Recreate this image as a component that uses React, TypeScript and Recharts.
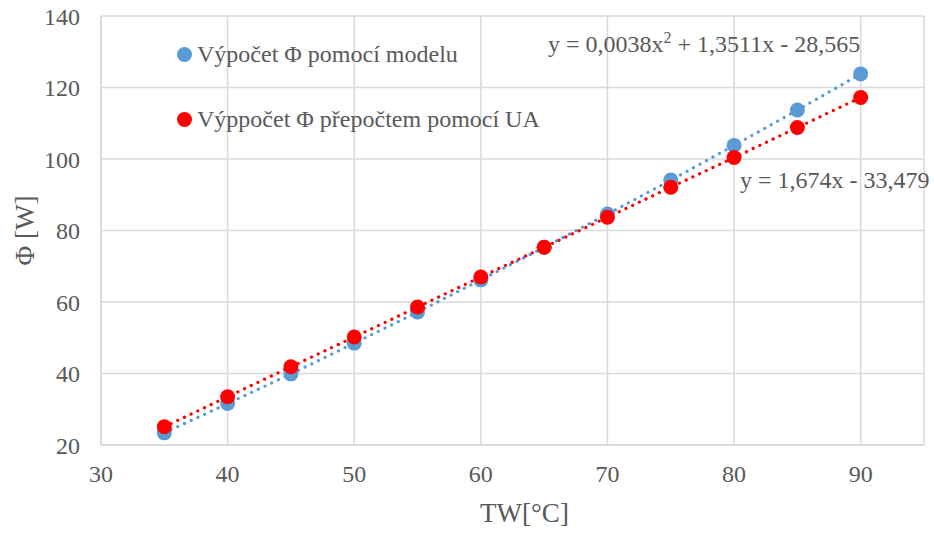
import React from "react";
import { ComposedChart, XAxis, YAxis, CartesianGrid, Scatter, Line, Label } from "recharts";

const tw = [35, 40, 45, 50, 55, 60, 65, 70, 75, 80, 85, 90];
const modelValues = [23.4, 31.6, 39.9, 48.5, 57.2, 66.2, 75.3, 84.6, 94.1, 103.8, 113.7, 123.8];
const uaValues = [25.1, 33.5, 41.9, 50.2, 58.6, 67.0, 75.3, 83.7, 92.1, 100.4, 108.8, 117.2];
const xTicks = [30, 40, 50, 60, 70, 80, 90];
const yTicks = [20, 40, 60, 80, 100, 120, 140];

const modelData = tw.map((x, i) => ({ x, y: modelValues[i] }));
const uaData = tw.map((x, i) => ({ x, y: uaValues[i] }));

const BLUE = "#5b9bd5";
const RED = "#ff0000";
const GREY = "#595959";
const FONT = "Liberation Serif, Times New Roman, serif";

const dot = (color: string) => (props: any) => (
  <circle cx={props.cx} cy={props.cy} r={7.5} fill={color} />
);

const textStyle: React.CSSProperties = {
  position: "absolute",
  color: GREY,
  fontSize: 24,
  fontFamily: FONT,
  whiteSpace: "nowrap",
  lineHeight: "normal",
};

export default function App() {
  return (
    <div style={{ position: "absolute", left: 0, top: 0, width: 934, height: 533, fontFamily: FONT }}>
      <ComposedChart width={934} height={533} margin={{ top: 16, right: 10, left: 0, bottom: 0 }} style={{ fontFamily: FONT }}>
        <CartesianGrid stroke="#d9d9d9" strokeWidth={1.5} />
        <XAxis
          type="number"
          dataKey="x"
          domain={[30, 95]}
          ticks={xTicks}
          allowDataOverflow
          height={88}
          axisLine={{ stroke: "#d9d9d9", strokeWidth: 1.5 }}
          tickLine={false}
          tickMargin={14}
          tick={{ fill: GREY, fontSize: 24, fontFamily: FONT }}
        >
          <Label value="TW[°C]" position="insideBottom" offset={11} dx={12} fontFamily={FONT} style={{ fill: GREY, fontSize: 27, fontFamily: FONT }} />
        </XAxis>
        <YAxis
          type="number"
          dataKey="y"
          domain={[20, 140]}
          ticks={yTicks}
          width={101}
          axisLine={{ stroke: "#d9d9d9", strokeWidth: 1.5 }}
          tickLine={false}
          tickMargin={15}
          tick={{ fill: GREY, fontSize: 24, fontFamily: FONT }}
        >
          <Label value="Φ [W]" angle={-90} position="insideLeft" offset={24} fontFamily={FONT} style={{ fill: GREY, fontSize: 27, fontFamily: FONT, textAnchor: "middle" }} />
        </YAxis>
        <Scatter data={modelData} fill={BLUE} shape={dot(BLUE)} isAnimationActive={false} />
        <Scatter data={uaData} fill={RED} shape={dot(RED)} isAnimationActive={false} />
        <Line
          data={modelData}
          dataKey="y"
          type="monotone"
          stroke={BLUE}
          strokeWidth={3.2}
          strokeDasharray="0.1 7.3"
          strokeLinecap="round"
          dot={false}
          activeDot={false}
          isAnimationActive={false}
        />
        <Line
          data={uaData}
          dataKey="y"
          type="linear"
          stroke={RED}
          strokeWidth={3.2}
          strokeDasharray="0.1 7.3"
          strokeLinecap="round"
          dot={false}
          activeDot={false}
          isAnimationActive={false}
        />
      </ComposedChart>
      <span style={{ position: "absolute", left: 176.5, top: 46.5, width: 15, height: 15, borderRadius: "50%", background: BLUE }} />
      <div style={{ ...textStyle, left: 197, top: 40.5 }}>Výpočet Φ pomocí modelu</div>
      <span style={{ position: "absolute", left: 176.5, top: 111.5, width: 15, height: 15, borderRadius: "50%", background: RED }} />
      <div style={{ ...textStyle, left: 197, top: 105.5 }}>Výppočet Φ přepočtem pomocí UA</div>
      <div style={{ ...textStyle, left: 548, top: 30.5 }}>
        y = 0,0038x<span style={{ fontSize: 16, position: "relative", top: -9 }}>2</span> + 1,3511x - 28,565
      </div>
      <div style={{ ...textStyle, left: 740, top: 166.5 }}>y = 1,674x - 33,479</div>
    </div>
  );
}
